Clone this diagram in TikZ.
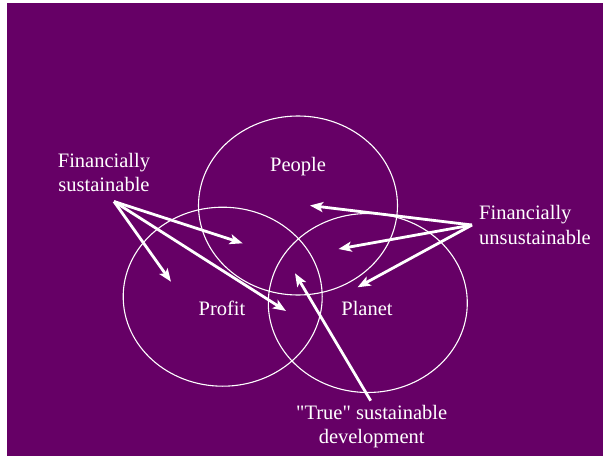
\documentclass[tikz,border=0pt]{standalone}
\usepackage{fontspec}
\setmainfont{Liberation Serif}[Ligatures=TeXOff]
\usetikzlibrary{arrows.meta}
\definecolor{plum}{RGB}{102,0,102}
\begin{document}
\begin{tikzpicture}[x=1pt,y=-1pt,
  ring/.style={draw=white,line width=1.1pt},
  label/.style={text=white,inner sep=0pt,font=\fontsize{20.5}{24.5}\selectfont},
  pointer/.style={draw=white,line width=2.8pt,
    -{Stealth[length=13pt,width=10pt,inset=3pt]}}]
  \useasboundingbox (0,0) rectangle (603,458);
  \fill[white] (0,0) rectangle (603,458);
  \fill[plum] (7,3) rectangle (603,456);

  % the three overlapping ellipses
  \draw[ring] (298,205.5) ellipse [x radius=99.5, y radius=89.5];
  \draw[ring] (222.7,296.7) ellipse [x radius=99.5, y radius=89.5];
  \draw[ring] (367.8,303) ellipse [x radius=99.5, y radius=89.5];

  % ellipse titles
  \node[label,anchor=base] (people) at (298,171.5) {People};
  \node[label,anchor=base] (profit) at (222,315) {Profit};
  \node[label,anchor=base] (planet) at (367,315) {Planet};

  % side captions (anchored on the baseline of their last line)
  \node[label,align=center,anchor=base] (fs) at (104,191.5) {Financially\\sustainable};
  \node[label,align=left,anchor=base west] (fu) at (479,244) {Financially\\unsustainable};
  \node[label,align=center,anchor=base] (tsd) at (371.7,443.5) {"True" sustainable\\development};

  % arrow roots and tips
  \coordinate (fsroot) at (114,201.5);
  \coordinate (furoot) at (472,225);
  \coordinate (tsdroot) at (370.7,400.7);
  \coordinate (pp) at (242.7,243.3);
  \coordinate (pr) at (171,281.7);
  \coordinate (core1) at (286,311);
  \coordinate (pe) at (310,205.5);
  \coordinate (pl) at (338.5,249);
  \coordinate (ppl) at (357.5,287.3);
  \coordinate (core2) at (295,273.3);

  \draw[pointer] (fsroot) -- (pp);
  \draw[pointer] (fsroot) -- (pr);
  \draw[pointer] (fsroot) -- (core1);
  \draw[pointer] (furoot) -- (pe);
  \draw[pointer] (furoot) -- (pl);
  \draw[pointer] (furoot) -- (ppl);
  \draw[pointer] (tsdroot) -- (core2);
\end{tikzpicture}
\end{document}
